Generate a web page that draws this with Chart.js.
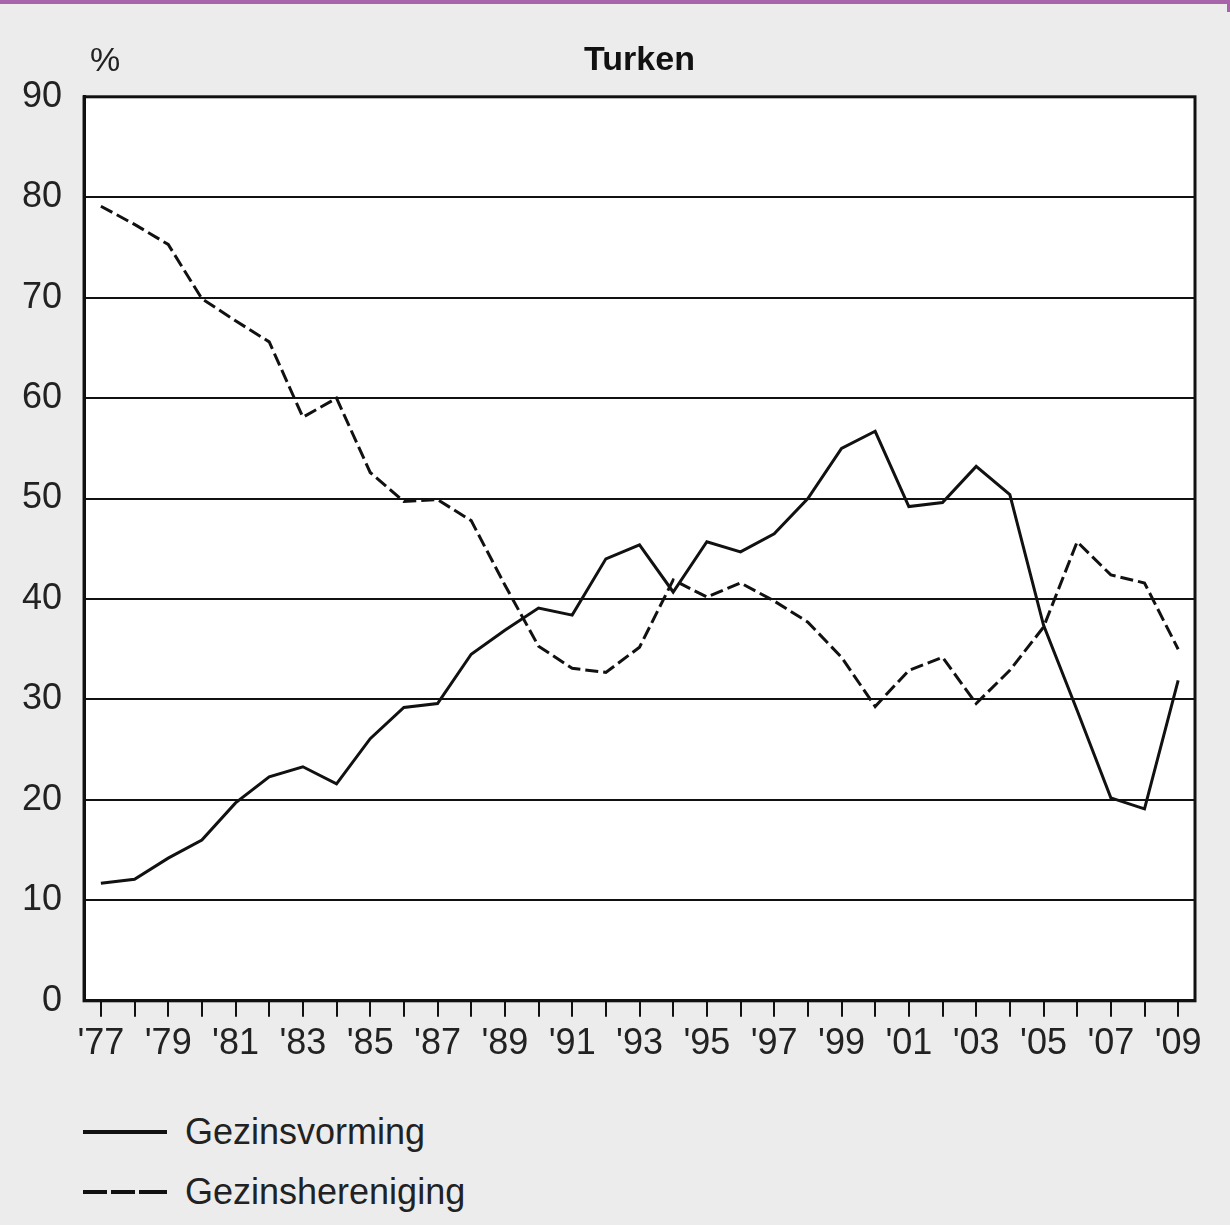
<!DOCTYPE html>
<html>
<head>
<meta charset="utf-8">
<script src="https://cdn.jsdelivr.net/npm/chart.js@4.4.1/dist/chart.umd.min.js"></script>
<style>
    body { margin: 0; background: #ececec; font-family: 'Liberation Sans', Arial, sans-serif; }
    #wrap { position: relative; width: 1230px; height: 1225px; overflow: hidden; }
    #topbar { position: absolute; left: 0; top: 0; width: 1230px; height: 4px; background: #a864a8; }
    #sidebar { position: absolute; right: 0; top: 0; width: 3px; height: 12px; background: #a864a8; }
    #chartBox { position: absolute; left: 0; top: 0; }
    .legend { position: absolute; left: 83px; font-size: 36px; color: #222; }
    .legend .item { position: absolute; left: 0; white-space: nowrap; height: 40px; }
    .legend .swatch { position: absolute; left: 0; top: 18px; width: 84px; height: 0; border-top: 4px solid #111; }
    .legend .dash { position: absolute; top: 18px; width: 24px; height: 0; border-top: 4px solid #111; }
    .legend .label { position: absolute; left: 102px; top: 0; line-height: 40px; }
</style>
</head>
<body>
<div id="wrap">
    <div id="topbar"></div>
    <div id="sidebar"></div>
    <canvas id="chartBox" width="1230" height="1080"></canvas>
    <div class="legend">
        <div class="item" style="top:1112px">
            <div class="swatch"></div>
            <span class="label">Gezinsvorming</span>
        </div>
        <div class="item" style="top:1172px">
            <div class="dash" style="left:0"></div>
            <div class="dash" style="left:28px"></div>
            <div class="dash" style="left:56px;width:28px"></div>
            <span class="label">Gezinshereniging</span>
        </div>
    </div>
</div>
<script>
// jaren 1977 - 2009
const years = ["'77", "'78", "'79", "'80", "'81", "'82", "'83", "'84", "'85", "'86", "'87",
    "'88", "'89", "'90", "'91", "'92", "'93", "'94", "'95", "'96", "'97", "'98", "'99",
    "'00", "'01", "'02", "'03", "'04", "'05", "'06", "'07", "'08", "'09"];

const gezinsvorming = [11.7, 12.1, 14.2, 16.0, 19.7, 22.3, 23.3, 21.6, 26.1, 29.2, 29.6,
    34.5, 36.9, 39.1, 38.4, 44.0, 45.4, 40.7, 45.7, 44.7, 46.5, 50.0, 55.0,
    56.7, 49.2, 49.6, 53.2, 50.4, 37.4, 28.9, 20.2, 19.1, 31.9];

const gezinshereniging = [79.1, 77.3, 75.3, 69.9, 67.7, 65.6, 58.1, 60.0, 52.6, 49.7, 49.9,
    47.8, 41.4, 35.3, 33.1, 32.7, 35.2, 41.9, 40.2, 41.6, 39.8, 37.7, 34.2,
    29.3, 32.9, 34.2, 29.6, 32.9, 37.2, 45.7, 42.4, 41.6, 35.0];

const yTicks = [0, 10, 20, 30, 40, 50, 60, 70, 80, 90];

const fontFamily = "'Liberation Sans', Arial, sans-serif";

// witte achtergrond + kader om het plotvlak, en het %-teken
const plotFrame = {
    id: 'plotFrame',
    beforeDraw(chart) {
        const { ctx, chartArea: a } = chart;
        ctx.save();
        ctx.fillStyle = '#ffffff';
        ctx.fillRect(a.left, a.top, a.right - a.left, a.bottom - a.top);
        ctx.restore();
    },
    afterDraw(chart) {
        const { ctx, chartArea: a } = chart;
        ctx.save();
        ctx.strokeStyle = '#111';
        ctx.lineWidth = 3;
        ctx.strokeRect(a.left, a.top, a.right - a.left, a.bottom - a.top);
        ctx.fillStyle = '#222';
        ctx.font = '34px ' + fontFamily;
        ctx.textAlign = 'left';
        ctx.textBaseline = 'middle';
        ctx.fillText('%', a.left + 6, a.top - 35);
        ctx.restore();
    }
};

const ctx = document.getElementById('chartBox').getContext('2d');
new Chart(ctx, {
    type: 'line',
    data: {
        labels: years,
        datasets: [{
            label: 'Gezinsvorming',
            data: gezinsvorming,
            borderColor: '#111',
            borderWidth: 3,
            pointRadius: 0,
            tension: 0,
            fill: false
        }, {
            label: 'Gezinshereniging',
            data: gezinshereniging,
            borderColor: '#111',
            borderWidth: 3,
            borderDash: [13, 5],
            pointRadius: 0,
            tension: 0,
            fill: false
        }]
    },
    options: {
        responsive: false,
        animation: false,
        layout: { padding: { left: 0, right: 35, top: 0, bottom: 8 } },
        scales: {
            x: {
                offset: true,
                grid: { drawOnChartArea: false, drawTicks: true, tickLength: 16, color: '#111', lineWidth: 2 },
                border: { display: true, color: '#111', width: 3 },
                ticks: {
                    autoSkip: false,
                    maxRotation: 0,
                    padding: 6,
                    color: '#222',
                    font: { family: fontFamily, size: 36 },
                    callback: function(value, index) {
                        return index % 2 === 0 ? years[index] : '';
                    }
                }
            },
            y: {
                min: 0,
                max: 90,
                afterBuildTicks: (axis) => { axis.ticks = yTicks.map(v => ({ value: v })); },
                grid: { drawTicks: false, color: '#111', lineWidth: 2 },
                border: { display: true, color: '#111', width: 3 },
                ticks: {
                    padding: 22,
                    color: '#222',
                    font: { family: fontFamily, size: 36 }
                }
            }
        },
        plugins: {
            legend: { display: false },
            tooltip: { enabled: false },
            title: {
                display: true,
                fullSize: false,
                text: 'Turken',
                color: '#111',
                font: { family: fontFamily, size: 34, weight: 'bold' },
                padding: { top: 40, bottom: 16 }
            }
        }
    },
    plugins: [plotFrame]
});
</script>
</body>
</html>
